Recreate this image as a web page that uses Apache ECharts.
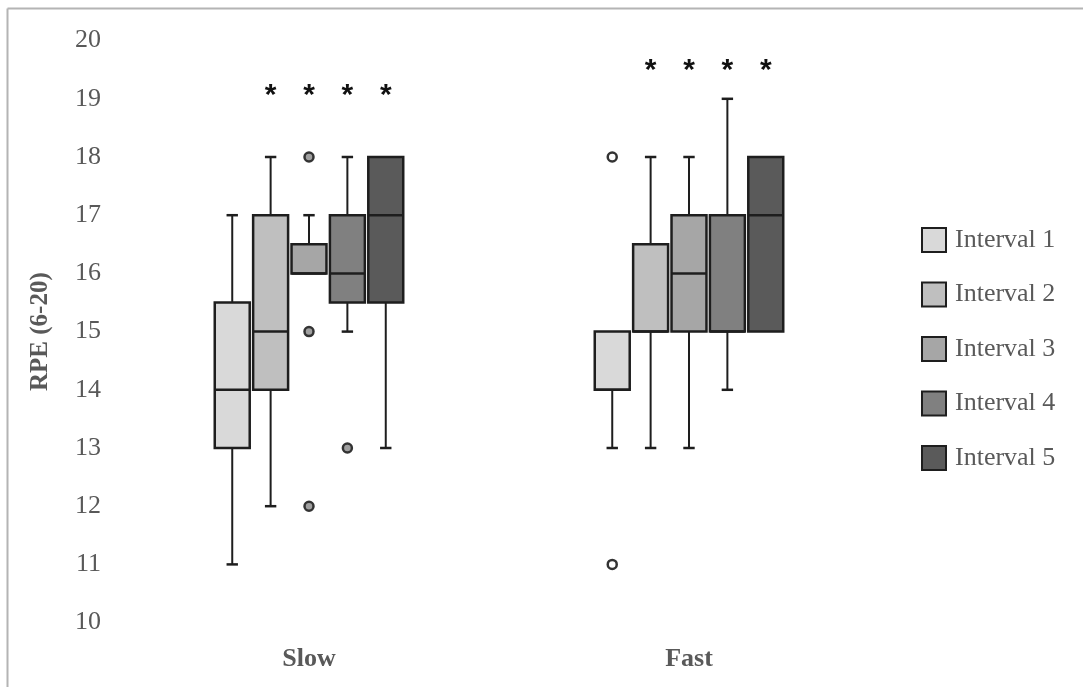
<!DOCTYPE html>
<html>
<head>
<meta charset="utf-8">
<script src="https://cdn.jsdelivr.net/npm/echarts@6/dist/echarts.min.js"></script>
<style>
  html, body { margin: 0; padding: 0; background: #fff; }
  #main { width: 1083px; height: 687px; }
</style>
</head>
<body>
<div id="main"></div>
<script>
// categories and series names
const categories = ['Slow', 'Fast'];
const intervalNames = ['Interval 1', 'Interval 2', 'Interval 3', 'Interval 4', 'Interval 5'];
const intervalColors = ['#d9d9d9', '#bfbfbf', '#a6a6a6', '#808080', '#5a5a5a'];

// [min, q1, median, q3, max] per interval
const slowBoxes = [
  [11, 13, 14, 15.5, 17],
  [12, 14, 15, 17, 18],
  [16, 16, 16, 16.5, 17],
  [15, 15.5, 16, 17, 18],
  [13, 15.5, 17, 18, 18]
];
const fastBoxes = [
  [13, 14, 14, 15, 15],
  [13, 15, 15, 16.5, 18],
  [13, 15, 16, 17, 18],
  [14, 15, 15, 17, 19],
  [15, 15, 17, 18, 18]
];

// outliers per interval
const slowOutliers = [[], [], [18, 15, 12], [13], []];
const fastOutliers = [[18, 11], [], [], [], []];

// significance markers: interval indexes and height per group
const starIntervals = [1, 2, 3, 4];
const starLevels = [19.05, 19.48];

const yTicks = { min: 10, max: 20, interval: 1 };

let chartDom = document.getElementById('main');
let myChart = echarts.init(chartDom);

const lineColor = '#1e1e1e';
const serif = 'Liberation Serif';

function offsetX(api, cat, k) {
  let band = api.size([1, 0])[0];
  return api.coord([cat, yTicks.min])[0] + (k - 2) * band * 0.101;
}

function renderBox(params, api) {
  let cat = api.value(0);
  let k = params.seriesIndex;
  let band = api.size([1, 0])[0];
  let half = band * 0.046;
  let cap = band * 0.015;
  let x = offsetX(api, cat, k);
  let y = v => api.coord([cat, v])[1];
  let mn = api.value(1), q1 = api.value(2), md = api.value(3), q3 = api.value(4), mx = api.value(5);
  let children = [];
  if (mx > q3) {
    children.push({ type: 'line', shape: { x1: x, y1: y(q3), x2: x, y2: y(mx) }, style: { stroke: lineColor, lineWidth: 2 } });
    children.push({ type: 'line', shape: { x1: x - cap, y1: y(mx), x2: x + cap, y2: y(mx) }, style: { stroke: lineColor, lineWidth: 2.5 } });
  }
  if (mn < q1) {
    children.push({ type: 'line', shape: { x1: x, y1: y(q1), x2: x, y2: y(mn) }, style: { stroke: lineColor, lineWidth: 2 } });
    children.push({ type: 'line', shape: { x1: x - cap, y1: y(mn), x2: x + cap, y2: y(mn) }, style: { stroke: lineColor, lineWidth: 2.5 } });
  }
  children.push({
    type: 'rect',
    shape: { x: x - half, y: y(q3), width: half * 2, height: y(q1) - y(q3) },
    style: { fill: intervalColors[k], stroke: lineColor, lineWidth: 2.5 }
  });
  children.push({ type: 'line', shape: { x1: x - half, y1: y(md), x2: x + half, y2: y(md) }, style: { stroke: lineColor, lineWidth: 2.5 } });
  return { type: 'group', children: children };
}

function renderOutlier(params, api) {
  let cat = api.value(0);
  let k = api.value(1);
  let x = offsetX(api, cat, k);
  let yy = api.coord([cat, api.value(2)])[1];
  return {
    type: 'circle',
    shape: { cx: x, cy: yy, r: 4.5 },
    style: { fill: cat === 0 ? '#a0a0a0' : '#ffffff', stroke: '#333', lineWidth: 2.5 }
  };
}

function renderStar(params, api) {
  let cat = api.value(0);
  let k = api.value(1);
  let x = offsetX(api, cat, k);
  let yy = api.coord([cat, api.value(2)])[1];
  return {
    type: 'text',
    x: x,
    y: yy,
    style: {
      text: '*',
      fill: '#111',
      font: 'bold 30px "Liberation Sans"',
      align: 'center',
      verticalAlign: 'middle'
    }
  };
}

let series = intervalNames.map(function (name, k) {
  return {
    name: name,
    type: 'custom',
    renderItem: renderBox,
    itemStyle: { color: intervalColors[k] },
    encode: { x: 0, y: [1, 2, 3, 4, 5] },
    data: [[0].concat(slowBoxes[k]), [1].concat(fastBoxes[k])]
  };
});

let outlierData = [];
slowOutliers.forEach(function (list, k) { list.forEach(v => outlierData.push([0, k, v])); });
fastOutliers.forEach(function (list, k) { list.forEach(v => outlierData.push([1, k, v])); });
series.push({
  name: 'outliers',
  type: 'custom',
  renderItem: renderOutlier,
  encode: { x: 0, y: 2 },
  data: outlierData,
  z: 3
});

let starData = [];
starLevels.forEach(function (lvl, cat) {
  starIntervals.forEach(k => starData.push([cat, k, lvl]));
});
series.push({
  name: 'stars',
  type: 'custom',
  renderItem: renderStar,
  encode: { x: 0, y: 2 },
  data: starData
});

let option = {
  animation: false,
  backgroundColor: '#fff',
  graphic: [
    { type: 'line', shape: { x1: 7.5, y1: 8.5, x2: 1083, y2: 8.5 }, style: { stroke: '#b4b4b4', lineWidth: 2 } },
    { type: 'line', shape: { x1: 7.5, y1: 8.5, x2: 7.5, y2: 687 }, style: { stroke: '#b4b4b4', lineWidth: 2 } }
  ],
  grid: {
    left: 119,
    right: 204,
    top: 40.6,
    bottom: 64.4
  },
  legend: {
    data: intervalNames,
    orient: 'vertical',
    left: 916,
    top: 222,
    icon: 'rect',
    itemWidth: 24,
    itemHeight: 24,
    itemGap: 28.5,
    itemStyle: { borderColor: '#1e1e1e', borderWidth: 2 },
    textStyle: {
      fontFamily: serif,
      fontSize: 26,
      color: '#595959',
      lineHeight: 24,
      padding: [0, 0, 0, 4]
    }
  },
  xAxis: {
    type: 'category',
    data: categories,
    axisLine: { show: false },
    axisTick: { show: false },
    splitLine: { show: false },
    axisLabel: {
      fontFamily: serif,
      fontWeight: 'bold',
      fontSize: 26,
      color: '#595959',
      margin: 24
    }
  },
  yAxis: {
    type: 'value',
    min: yTicks.min,
    max: yTicks.max,
    interval: yTicks.interval,
    name: 'RPE (6-20)',
    nameLocation: 'middle',
    nameGap: 66,
    nameTextStyle: {
      fontFamily: serif,
      fontWeight: 'bold',
      fontSize: 25,
      color: '#595959'
    },
    axisLine: { show: false },
    axisTick: { show: false },
    splitLine: { show: false },
    axisLabel: {
      fontFamily: serif,
      fontSize: 26,
      color: '#595959',
      margin: 18
    }
  },
  series: series
};

option && myChart.setOption(option);
</script>
</body>
</html>
